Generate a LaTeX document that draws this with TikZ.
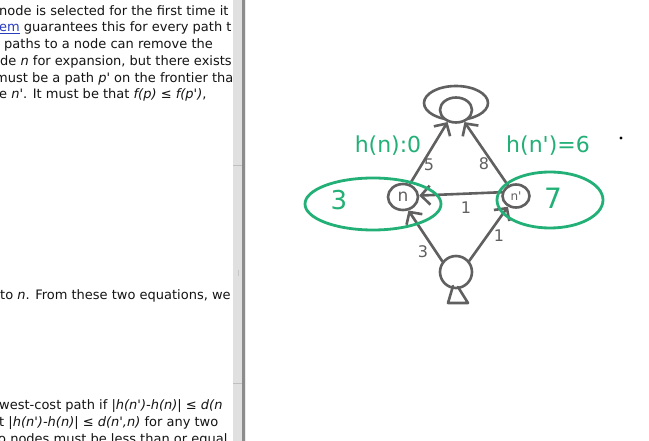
\documentclass[tikz,border=0pt]{standalone}
\usepackage{fontspec}
\setmainfont{DejaVu Sans}[Ligatures=TeXOff]
\usetikzlibrary{arrows.meta,shapes.geometric}
\definecolor{pen}{RGB}{96,96,96}
\definecolor{hgreen}{RGB}{34,176,118}
\definecolor{txt}{RGB}{20,20,20}
\definecolor{linkblue}{RGB}{40,60,190}
\begin{document}
\begin{tikzpicture}[x=1pt,y=-1pt,
  line/.style={anchor=base west, inner sep=0pt, text=txt, font=\fontsize{13}{16}\selectfont},
  pen/.style={draw=pen, line width=2.6pt, line cap=round, line join=round},
  gpen/.style={draw=hgreen, line width=2.8pt, line cap=round, line join=round},
  head/.style={-{Straight Barb[length=9pt,width=19pt]}},
  lbl/.style={text=pen, font=\fontsize{16}{16}\selectfont, inner sep=0pt},
  glbl/.style={text=hgreen, inner sep=0pt}]
\useasboundingbox (0,0) rectangle (649,441);
\fill[white] (0,0) rectangle (649,441);
% ---- left text panel ----
\begin{scope}
\clip (0,0) rectangle (233,441);
\node[line] (t1) at (-1,15.5) {node is selected for the first time it};
\node[line] (t2) at (-1,32) {\textcolor{linkblue}{\underline{em}} guarantees this for every path t};
\node[line] (t3) at (4,48.8) {paths to a node can remove the};
\node[line] (t4) at (0,65.5) {de {\itshape n} for expansion, but there exists};
\node[line] (t5) at (-5,82.2) {must be a path {\itshape p'} on the frontier that};
\node[line] (t6) at (-1,99) {e {\itshape n'}. It must be that {\itshape f(p) ≤ f(p')},};
\node[line] (t7) at (0,300) {to {\itshape n}. From these two equations, we};
\node[line] (t8) at (-1,409) {west-cost path if {\itshape |h(n')-h(n)| ≤ d(n}};
\node[line] (t9) at (-1,426) {t {\itshape |h(n')-h(n)| ≤ d(n',n)} for any two};
\node[line] (t10) at (-2,443) {o nodes must be less than or equal};
\end{scope}
% ---- divider / scrollbar ----
\fill[black!12] (233,0) rectangle (242,441);
\fill[black!45] (242,0) rectangle (244.5,441);
\fill[black!8] (244.5,0) rectangle (245.5,441);
\draw[black!25, line width=0.8pt] (233,165) -- (242,165);
\draw[black!25, line width=0.8pt] (233,383) -- (242,383);
\draw[black!22, line width=1pt] (238,270) -- (238,276);
% ---- graph nodes ----
\node[ellipse, pen, minimum width=64pt, minimum height=34pt, inner sep=0pt] (cap) at (456,103) {};
\node[ellipse, pen, fill=white, minimum width=32pt, minimum height=25pt, inner sep=0pt] (top) at (456,110) {};
\node[ellipse, pen, minimum width=30pt, minimum height=26pt, inner sep=0pt, text=pen, font=\fontsize{17}{17}\selectfont] (n) at (403,197) {n};
\node[ellipse, pen, minimum width=27pt, minimum height=23pt, inner sep=0pt, text=pen, font=\fontsize{12}{12}\selectfont] (np) at (516,196) {n'};
\node[circle, pen, minimum size=32pt, inner sep=0pt] (b) at (456,272) {};
\coordinate (tl) at (453,286);
\coordinate (tb) at (448,303);
\coordinate (tr) at (468,303);
\coordinate (te) at (458,287);
\draw[pen] (tl) -- (tb) -- (tr) -- (te);
% ---- edges ----
\draw[pen, head] (n.62) -- (top.235);
\draw[pen, head] (np.127) -- (top.305);
\draw[pen, head] (np.165) -- (n.5);
\draw[pen, head] (b.142) -- (n.292);
\draw[pen, head] (b.40) -- (np.233);
% ---- edge labels ----
\node[lbl] (w5) at (429,165) {5};
\node[lbl] (w8) at (484,164) {8};
\node[lbl] (w1a) at (466,208) {1};
\node[lbl] (w3) at (423,252) {3};
\node[lbl] (w1b) at (499,236) {1};
% ---- green annotations ----
\node[ellipse, gpen, minimum width=136pt, minimum height=52pt, inner sep=0pt] (gl) at (373,204) {};
\node[ellipse, gpen, minimum width=106pt, minimum height=56pt, inner sep=0pt] (gr) at (550,200) {};
\node[glbl, font=\fontsize{26}{26}\selectfont] (h3) at (339,200) {3};
\node[glbl, font=\fontsize{28}{28}\selectfont] (h7) at (553,198) {7};
\node[glbl, font=\fontsize{22}{22}\selectfont] (hn) at (388,146) {h(n):0};
\node[glbl, font=\fontsize{22}{22}\selectfont] (hnp) at (548,146) {h(n')=6};
\fill[black] (621,138) circle (1.6pt);
\end{tikzpicture}
\end{document}
